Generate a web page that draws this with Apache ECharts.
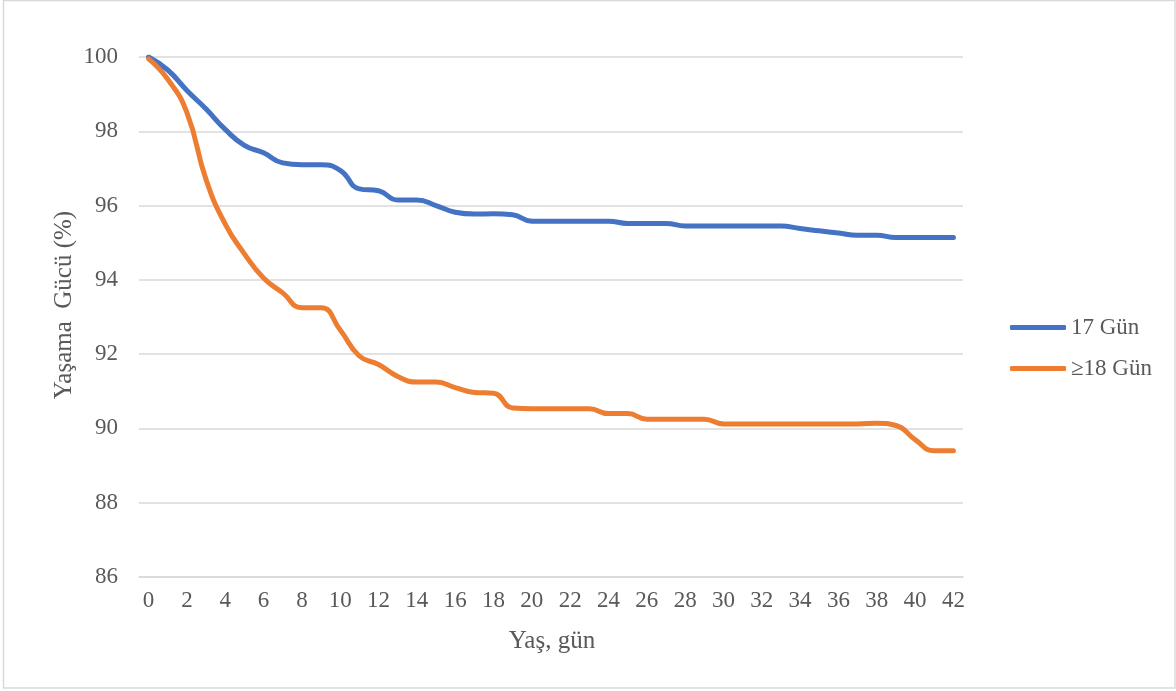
<!DOCTYPE html>
<html>
<head>
<meta charset="utf-8">
<script src="https://cdn.jsdelivr.net/npm/echarts@6/dist/echarts.min.js"></script>
<style>
  html, body { margin: 0; padding: 0; background: #ffffff; }
  #chart { width: 1176px; height: 691px; }
</style>
</head>
<body>
<div id="chart"></div>
<script>
// Yaş (gün)
const days = Array.from({ length: 43 }, (_, i) => String(i));

// Yaşama gücü (%) – 17 günlük kuluçka
const survival17 = [
  100.00, 99.65, 99.10, 98.60, 98.05, 97.62, 97.42, 97.15, 97.10, 97.10,
  96.95, 96.45, 96.40, 96.15, 96.15, 96.00, 95.82, 95.77, 95.78, 95.75,
  95.58, 95.58, 95.58, 95.58, 95.58, 95.52, 95.52, 95.52, 95.45, 95.45,
  95.45, 95.45, 95.45, 95.45, 95.38, 95.32, 95.26, 95.20, 95.20, 95.14,
  95.14, 95.14, 95.14
];

// Yaşama gücü (%) – 18 gün ve üzeri kuluçka
const survival18 = [
  99.95, 99.40, 98.50, 96.70, 95.50, 94.70, 94.05, 93.65, 93.25, 93.25,
  92.65, 91.95, 91.72, 91.40, 91.25, 91.25, 91.10, 90.97, 90.95, 90.55,
  90.53, 90.53, 90.53, 90.53, 90.40, 90.40, 90.25, 90.25, 90.25, 90.25,
  90.12, 90.12, 90.12, 90.12, 90.12, 90.12, 90.12, 90.12, 90.14, 90.08,
  89.70, 89.40, 89.40
];

const seriesNames = ['17 Gün', '\u226518 Gün'];
const xTitle = 'Yaş, gün';
const yTitle = 'Yaşama  Gücü (%)';

const FONT = '"Liberation Serif", "DejaVu Serif", serif';
const TEXT = '#595959';
const GRID = '#d9d9d9';

const chart = echarts.init(document.getElementById('chart'), null, { renderer: 'canvas' });

chart.setOption({
  animation: false,
  backgroundColor: '#ffffff',
  textStyle: { fontFamily: FONT },
  grid: { left: 139, right: 213, top: 57, bottom: 114, containLabel: false },
  xAxis: {
    type: 'category',
    data: days,
    boundaryGap: true,
    axisLine: { show: true, lineStyle: { color: GRID, width: 1.5 } },
    axisTick: { show: false },
    splitLine: { show: false },
    axisLabel: {
      interval: 1,
      color: TEXT,
      fontFamily: FONT,
      fontSize: 23,
      margin: 12
    }
  },
  yAxis: {
    type: 'value',
    min: 86,
    max: 100,
    interval: 2,
    axisLine: { show: false },
    axisTick: { show: false },
    splitLine: { show: true, lineStyle: { color: GRID, width: 1.5 } },
    axisLabel: {
      color: TEXT,
      fontFamily: FONT,
      fontSize: 23,
      margin: 21
    }
  },
  legend: {
    orient: 'vertical',
    left: 1005,
    top: 311,
    itemWidth: 56,
    itemHeight: 5,
    itemGap: 18,
    icon: 'roundRect',
    data: seriesNames,
    textStyle: { color: TEXT, fontFamily: FONT, fontSize: 23 }
  },
  graphic: [
    {
      type: 'rect',
      shape: { x: 3.5, y: 0.5, width: 1171.5, height: 687.5 },
      style: { fill: 'none', stroke: GRID, lineWidth: 1.5 },
      silent: true
    },
    {
      type: 'text',
      x: 552,
      y: 641,
      style: {
        text: xTitle,
        fill: TEXT,
        font: '25px ' + FONT,
        textAlign: 'center',
        textVerticalAlign: 'middle'
      }
    },
    {
      type: 'text',
      x: 64,
      y: 305,
      rotation: Math.PI / 2,
      style: {
        text: yTitle,
        fill: TEXT,
        font: '25px ' + FONT,
        textAlign: 'center',
        textVerticalAlign: 'middle'
      }
    }
  ],
  series: [
    {
      name: seriesNames[0],
      type: 'line',
      data: survival17,
      smooth: 0.5,
      showSymbol: false,
      symbol: 'none',
      lineStyle: { color: '#4472C4', width: 5, cap: 'round', join: 'round' },
      itemStyle: { color: '#4472C4' }
    },
    {
      name: seriesNames[1],
      type: 'line',
      data: survival18,
      smooth: 0.5,
      showSymbol: false,
      symbol: 'none',
      lineStyle: { color: '#ED7D31', width: 5, cap: 'round', join: 'round' },
      itemStyle: { color: '#ED7D31' }
    }
  ]
});
</script>
</body>
</html>
